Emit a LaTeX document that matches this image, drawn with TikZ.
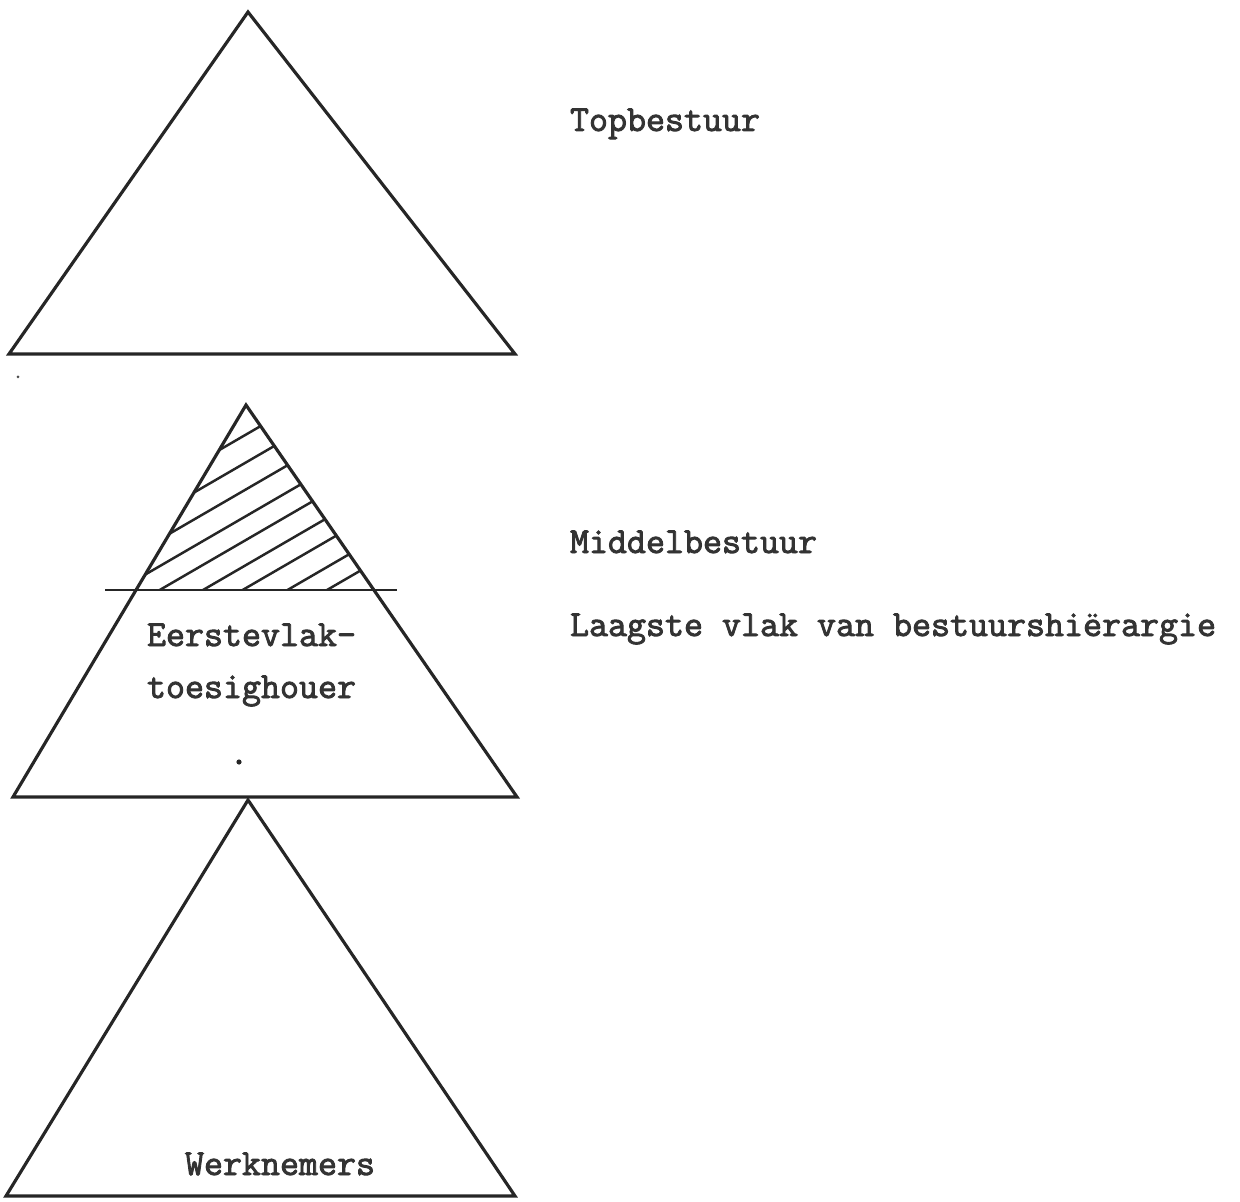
\documentclass[tikz,border=0pt]{standalone}
\usepackage{fontspec}
\newfontfamily\twfont{Latin Modern Mono}[FakeBold=2.4]
\usetikzlibrary{calc}
\begin{document}
\begin{tikzpicture}[x=0.02cm,y=-0.02cm,
  tri/.style={draw=black!85,line width=1.8pt,line join=miter},
  hatchline/.style={draw=black!85,line width=1.4pt},
  sepline/.style={draw=black!85,line width=1.5pt},
  lbl/.style={anchor=base west,inner sep=0pt,outer sep=0pt,text=black!80,
    font=\twfont\fontsize{21}{24}\selectfont}]
\useasboundingbox (0,0) rectangle (1240,1202);
% top triangle
\coordinate (tA) at (248,12);
\coordinate (tL) at (9,354);
\coordinate (tR) at (515,354);
\draw[tri] (tA) -- (tL) -- (tR) -- cycle;
% middle triangle
\coordinate (mA) at (246,405);
\coordinate (mL) at (13,797);
\coordinate (mR) at (517,797);
\draw[tri] (mA) -- (mL) -- (mR) -- cycle;
\coordinate (hL) at (105,590);
\coordinate (hR) at (397,590);
\draw[sepline] (hL) -- (hR);
\begin{scope}
  \clip (mA) -- ($(mA)!0.4719!(mL)$) -- ($(mA)!0.4719!(mR)$) -- cycle;
  \foreach \xi in {-22,26,72.5,118.6,159.7,203,242.6,287.5,327}{
    \draw[hatchline] (\xi-100,648) -- (\xi+400,358);
  }
\end{scope}
% bottom triangle
\coordinate (bA) at (248,800);
\coordinate (bL) at (6,1196);
\coordinate (bR) at (515,1196);
\draw[tri] (bA) -- (bL) -- (bR) -- cycle;
% dots
\fill[black!70] (18,377) circle (1.5);
\fill[black!85] (239,762) circle (2.6);
% labels
\node[lbl] (top) at (570,131) {Topbestuur};
\node[lbl] (mid) at (570,553) {Middelbestuur};
\node[lbl] (low) at (570,636) {Laagste vlak van bestuurshiërargie};
\node[lbl] (eer) at (147,646) {Eerstevlak-};
\node[lbl] (toe) at (147,698) {toesighouer};
\node[lbl] (wer) at (185,1175) {Werknemers};
\end{tikzpicture}
\end{document}
